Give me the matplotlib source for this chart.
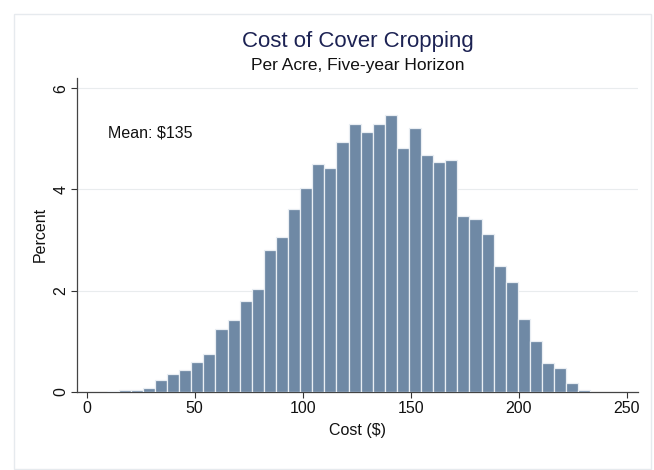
import numpy as np
import matplotlib.pyplot as plt
from matplotlib.patches import Rectangle

plt.rcParams['font.family'] = ['Liberation Sans', 'DejaVu Sans']

bin_start = 9.2
bin_width = 5.6
percent = [0.01, 0.03, 0.03, 0.08, 0.24, 0.35, 0.43, 0.58, 0.74, 1.23,
           1.41, 1.80, 2.02, 2.80, 3.05, 3.61, 4.02, 4.50, 4.43, 4.94,
           5.30, 5.13, 5.30, 5.46, 4.81, 5.22, 4.67, 4.54, 4.57, 3.47,
           3.41, 3.12, 2.48, 2.17, 1.43, 1.00, 0.56, 0.47, 0.18, 0.03]
x_ticks = [0, 50, 100, 150, 200, 250]
y_ticks = [0, 2, 4, 6]
mean_label = "Mean: $135"

edges = bin_start + bin_width * np.arange(len(percent))

fig = plt.figure(figsize=(6.54, 4.70), dpi=100)
fig.patch.set_facecolor('white')
# cadre exterieur tres clair
fig.add_artist(Rectangle((0.021, 0.003), 0.975, 0.967, transform=fig.transFigure,
                         fill=False, edgecolor='#e6eaee', linewidth=1))

ax = fig.add_axes([0.1177, 0.1666, 0.8578, 0.6674])
ax.bar(edges, percent, width=bin_width, align='edge', color='#6f89a5',
       edgecolor='#e9eef3', linewidth=0.9, zorder=3)

ax.set_xlim(-4.5, 255.2)
ax.set_ylim(0, 6.2)
ax.set_xticks(x_ticks)
ax.set_yticks(y_ticks)
ax.set_yticklabels([str(v) for v in y_ticks], rotation=90, va='center')
ax.tick_params(axis='both', labelsize=11.5, length=4, width=0.8, color='#333333',
               labelcolor='#111111', direction='out')
ax.tick_params(axis='y', pad=2)
ax.tick_params(axis='x', pad=3)

for s in ['top', 'right']:
    ax.spines[s].set_visible(False)
for s in ['left', 'bottom']:
    ax.spines[s].set_color('#444444')
    ax.spines[s].set_linewidth(0.9)

ax.yaxis.grid(True, color='#e9ecee', linewidth=0.8, zorder=0)
ax.get_ygridlines()[0].set_visible(False)

ax.set_xlabel("Cost ($)", fontsize=11.5, color='#111111', labelpad=5)
ax.set_ylabel("Percent", fontsize=11.5, color='#111111', labelpad=4)

ax.text(9.9, 5.11, mean_label, fontsize=11.5, color='#111111', va='center', ha='left')

fig.text(0.5465, 0.911, "Cost of Cover Cropping", fontsize=16, color='#1c2253',
         ha='center', va='center')
fig.text(0.5465, 0.860, "Per Acre, Five-year Horizon", fontsize=12.5, color='#111111',
         ha='center', va='center')

plt.savefig('out.png', dpi=100)
